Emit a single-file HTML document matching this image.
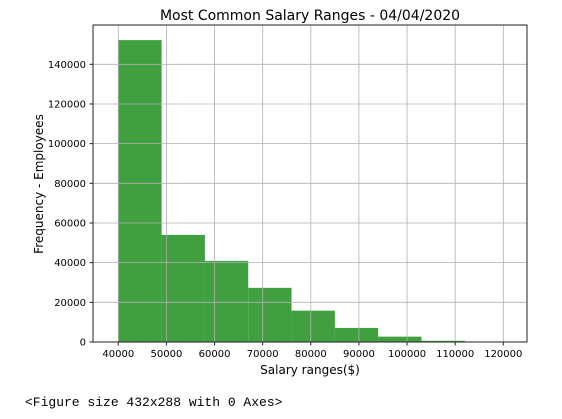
<!DOCTYPE html>
<html><head><meta charset="utf-8"><style>
body{margin:0;background:#fff;width:562px;height:419px;overflow:hidden;font-family:"Liberation Sans",sans-serif}
svg text{font-family:"DejaVu Sans","Liberation Sans",sans-serif}
.fig{position:absolute;left:25px;top:395px;font-family:"Liberation Mono",monospace;font-size:13px;color:#000}
</style></head><body>
<svg width="562" height="390" style="position:absolute;left:0;top:0">
<g id="grid"></g><g id="bars"></g><g id="ticks"></g>
<rect x="93" y="25" width="434" height="317" fill="none" stroke="#222" stroke-width="1"/>
<text x="310" y="20" font-size="14" text-anchor="middle">Most Common Salary Ranges - 04/04/2020</text>
<text x="310" y="374" font-size="12" text-anchor="middle">Salary ranges($)</text>
<text transform="translate(43,184) rotate(-90)" font-size="12" text-anchor="middle">Frequency - Employees</text>
</svg>
<div class="fig">&lt;Figure size 432x288 with 0 Axes&gt;</div>
<script>
const binEdges=[40000,49000,58000,67000,76000,85000,94000,103000,112000,121000,130000];
const counts=[152200,54000,40900,27300,15800,7100,2700,600,100,50];
const xTicks=[40000,50000,60000,70000,80000,90000,100000,110000,120000];
const yTicks=[0,20000,40000,60000,80000,100000,120000,140000];
const NS="http://www.w3.org/2000/svg";
const X=v=>118.3+(v-40000)*385/80000;
const Y=v=>342-v*277.7/140000;
function mk(t,a,p){const e=document.createElementNS(NS,t);for(const k in a)e.setAttribute(k,a[k]);p.appendChild(e);return e;}
const grid=document.getElementById('grid'),bars=document.getElementById('bars'),ticks=document.getElementById('ticks');
counts.forEach((c,i)=>{
 const x0=X(binEdges[i]),x1=X(binEdges[i+1]);
 if(x0>=527)return;
 const r=mk('rect',{x:x0,y:Y(c),width:Math.min(x1,527)-x0,height:342-Y(c),fill:'#40a040'},bars);
 
 
});
xTicks.forEach(v=>{
 const x=X(v);
 const g=mk('line',{x1:x,x2:x,y1:25,y2:342,stroke:'#b0b0b0','stroke-width':0.8},bars);
 
 
 mk('line',{x1:x,x2:x,y1:342,y2:345.5,stroke:'#222'},ticks);
 const t=mk('text',{x:x,y:357,'font-size':10,'text-anchor':'middle'},ticks);t.textContent=v;
 
 
});
yTicks.forEach(v=>{
 const y=Y(v);
 const g=mk('line',{x1:93,x2:527,y1:y,y2:y,stroke:'#b0b0b0','stroke-width':0.8},bars);
 
 
 mk('line',{x1:89.5,x2:93,y1:y,y2:y,stroke:'#222'},ticks);
 const t=mk('text',{x:86,y:y+3.5,'font-size':10,'text-anchor':'end'},ticks);t.textContent=v;
 
 
});
</script>
</body></html>
